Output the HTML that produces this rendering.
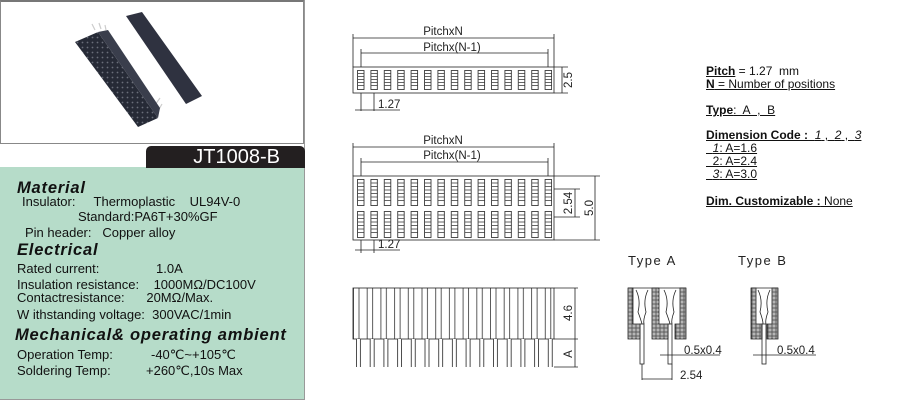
<!DOCTYPE html>
<html><head><meta charset="utf-8"><style>
html,body{margin:0;padding:0;background:#fff;width:900px;height:402px;overflow:hidden;font-family:"Liberation Sans",sans-serif}
.abs{position:absolute}
.g{position:absolute;left:0;top:167px;width:305px;height:232px;background:#b6dcc9}
.t{position:absolute;font-size:13px;color:#111;white-space:nowrap}
.h{position:absolute;font-size:16.5px;font-weight:bold;font-style:italic;color:#111;letter-spacing:0.8px;white-space:nowrap}
.r{position:absolute;font-size:12px;color:#111;white-space:nowrap;left:706px}
.u{text-decoration:underline}
</style></head><body>
<div class="abs" style="left:0;top:0;width:304px;height:144px;border:1px solid #888;border-top:2px solid #777;box-sizing:border-box"></div>
<div class="g"></div>
<div class="abs" style="left:304px;top:0;width:1px;height:400px;background:#999"></div>
<div class="abs" style="left:0;top:399px;width:305px;height:1px;background:#999"></div>
<div class="abs" style="left:146px;top:146px;width:159px;height:22px;background:#231f20;border-radius:5px 5px 0 0;color:#fff;font-size:20px;line-height:22px;text-align:right;padding-right:25px;box-sizing:border-box">JT1008-B</div>
<svg class="abs" style="left:0;top:0" width="305" height="145">
<defs><pattern id="d" patternUnits="userSpaceOnUse" width="5" height="5"><rect width="5" height="5" fill="#262a36"/><circle cx="2.5" cy="2.5" r="0.9" fill="#6a6e7a"/></pattern></defs>
<g stroke="#ccc" stroke-width="1.2"><line x1="95" y1="30" x2="92" y2="24"/><line x1="101" y1="29" x2="99" y2="23"/><line x1="106" y1="30" x2="105" y2="25"/><line x1="150" y1="112" x2="160" y2="98"/><line x1="154" y1="118" x2="162" y2="104"/></g>
<polygon points="75,42 98,32 158,118 138,127" fill="url(#d)"/>
<polygon points="98,32 108,30 160,108 158,118" fill="#3a3e4c"/>
<polygon points="126,16 142,12 202,96 186,104" fill="#2f3240"/>
</svg>
<div class="h" style="left:17px;top:179px">Material</div>
<div class="t" style="left:22px;top:194px">Insulator:&nbsp;&nbsp;&nbsp;&nbsp;&nbsp;Thermoplastic&nbsp;&nbsp;&nbsp;&nbsp;UL94V-0</div>
<div class="t" style="left:78px;top:209px">Standard:PA6T+30%GF</div>
<div class="t" style="left:25px;top:225px">Pin header:&nbsp;&nbsp;&nbsp;Copper alloy</div>
<div class="h" style="left:17px;top:241px">Electrical</div>
<div class="t" style="left:17px;top:261px">Rated current:</div>
<div class="t" style="left:156px;top:261px">1.0A</div>
<div class="t" style="left:17px;top:277px">Insulation resistance:&nbsp;&nbsp;&nbsp;&nbsp;1000MΩ/DC100V</div>
<div class="t" style="left:17px;top:290px">Contactresistance:&nbsp;&nbsp;&nbsp;&nbsp;&nbsp;&nbsp;20MΩ/Max.</div>
<div class="t" style="left:17px;top:307px">W ithstanding voltage:&nbsp;&nbsp;300VAC/1min</div>
<div class="h" style="left:15px;top:326px">Mechanical&amp; operating ambient</div>
<div class="t" style="left:17px;top:347px">Operation Temp:</div>
<div class="t" style="left:151px;top:347px">-40℃~+105℃</div>
<div class="t" style="left:17px;top:363px">Soldering Temp:</div>
<div class="t" style="left:146px;top:363px">+260℃,10s Max</div>

<div class="r" style="top:64px"><b class="u">Pitch</b> = 1.27&nbsp; mm</div>
<div class="r u" style="top:77px"><b>N</b> = Number of positions</div>
<div class="r u" style="top:103px"><b>Type</b>:&nbsp; A&nbsp; ,&nbsp; B</div>
<div class="r u" style="top:128px"><b>Dimension Code :</b>&nbsp; <i>1</i> ,&nbsp; <i>2</i> ,&nbsp; <i>3</i></div>
<div class="r u" style="top:141px">&nbsp;&nbsp;<i>1</i>: A=1.6</div>
<div class="r u" style="top:154px">&nbsp;&nbsp;2: A=2.4</div>
<div class="r u" style="top:167px">&nbsp;&nbsp;<i>3</i>: A=3.0</div>
<div class="r u" style="top:194px"><b>Dim. Customizable :</b> None</div>

<svg class="abs" style="left:0;top:0" width="900" height="402" font-family="Liberation Sans, sans-serif" font-size="10.5" fill="none" stroke="#222" stroke-width="0.8">
<defs>
<pattern id="s1" patternUnits="userSpaceOnUse" x="357" y="70" width="13.4" height="20"><rect x="0.5" y="0.5" width="6.5" height="19" stroke="#222" stroke-width="0.8" fill="#fff"/><path d="M1 3.5h6M1 6.5h6M1 9.5h6M1 12.5h6M1 15.5h6" stroke="#333" stroke-width="0.8"/></pattern>
<pattern id="s2" patternUnits="userSpaceOnUse" x="357" y="179" width="13.4" height="32"><rect x="0.5" y="0.5" width="6.5" height="26" stroke="#222" stroke-width="0.8" fill="#fff"/><path d="M1 4h6M1 7.5h6M1 11h6M1 14.5h6M1 18h6M1 21.5h6" stroke="#333" stroke-width="0.8"/></pattern>
<pattern id="v" patternUnits="userSpaceOnUse" x="353" y="0" width="13.7" height="10"><path d="M0.5 0v10M6 0v10" stroke="#333" stroke-width="0.8"/></pattern>
<pattern id="p" patternUnits="userSpaceOnUse" x="356" y="0" width="13.7" height="10"><rect x="0.5" y="-1" width="4" height="12" stroke="#222" stroke-width="0.8" fill="#fff"/></pattern>
<pattern id="x" patternUnits="userSpaceOnUse" width="4" height="4"><rect width="4" height="4" fill="#fff"/><circle cx="2" cy="2" r="1.1" fill="none" stroke="#555" stroke-width="0.5"/></pattern>
</defs>
<rect x="353" y="67" width="201" height="26"/>
<rect x="357" y="70" width="195" height="20" fill="url(#s1)" stroke="none"/>
<path d="M353 67V34M554 67V34M353 38H554M361 67V49M548 67V49M361 53H548"/>
<path d="M554 67H568M554 93H568M562 67V93"/>
<path d="M361 93V111M374 93V111M355 110H400"/>
<g fill="#222" stroke="none" font-size="11.5">
<text x="443" y="35" text-anchor="middle">PitchxN</text>
<text x="452" y="51" text-anchor="middle">Pitchx(N-1)</text>
<text x="378" y="108">1.27</text>
<text transform="translate(572,80) rotate(-90)" text-anchor="middle">2.5</text>
</g>
<rect x="353" y="176" width="201" height="64"/>
<rect x="357" y="179" width="195" height="59" fill="url(#s2)" stroke="none"/>
<path d="M353 176V143M554 176V143M353 147H554M361 176V158M548 176V158M361 162H548"/>
<path d="M554 189H580M554 217H580M575 189V217M554 176H600M554 240H600M595 176V240"/>
<path d="M361 240V253M374 240V253M355 250H400"/>
<g fill="#222" stroke="none" font-size="11.5">
<text x="443" y="144" text-anchor="middle">PitchxN</text>
<text x="452" y="159" text-anchor="middle">Pitchx(N-1)</text>
<text x="378" y="248">1.27</text>
<text transform="translate(572,203) rotate(-90)" text-anchor="middle">2.54</text>
<text transform="translate(593,208) rotate(-90)" text-anchor="middle">5.0</text>
</g>
<rect x="353" y="288" width="201" height="51" fill="url(#v)"/>
<rect x="356" y="339" width="197" height="28" fill="url(#p)" stroke="none"/>
<path d="M554 288H578M554 339H578M575 288V367M554 367H578"/>
<g fill="#222" stroke="none" font-size="11.5">
<text transform="translate(572,313) rotate(-90)" text-anchor="middle">4.6</text>
<text transform="translate(572,354) rotate(-90)" text-anchor="middle">A</text>
<text x="628" y="265" font-size="13" letter-spacing="1.5">Type  A</text>
<text x="738" y="265" font-size="13" letter-spacing="1.5">Type  B</text>
<text x="684" y="354">0.5x0.4</text>
<text x="680" y="379">2.54</text>
<text x="777" y="354">0.5x0.4</text>
</g>
<path d="M628 288V339H640V324H633V288Z M652 288V339H668V324H659V288Z M686 288V339H675V324H680V288Z" fill="url(#x)"/>
<path d="M628 288H686"/>
<path d="M636 290Q641 300 638 312Q641 320 642 324M648 290Q643 300 646 312Q643 320 644 324M664 290Q669 300 666 312Q669 320 670 324M676 290Q671 300 674 312Q671 320 672 324"/>
<rect x="640" y="324" width="4" height="40"/><rect x="668" y="324" width="4" height="40"/>
<path d="M642 364V380M672 364V380M642 379H672M660 355H720M684 355H720"/>
<path d="M751 288V339H762V324H756V288Z M778 288V339H767V324H772V288Z" fill="url(#x)"/>
<path d="M751 288H778M758 290Q763 300 760 312Q763 320 763 324M770 290Q765 300 768 312Q765 320 766 324"/>
<rect x="762" y="324" width="4" height="40"/>
<path d="M753 355H816"/>
</svg>
</body></html>
